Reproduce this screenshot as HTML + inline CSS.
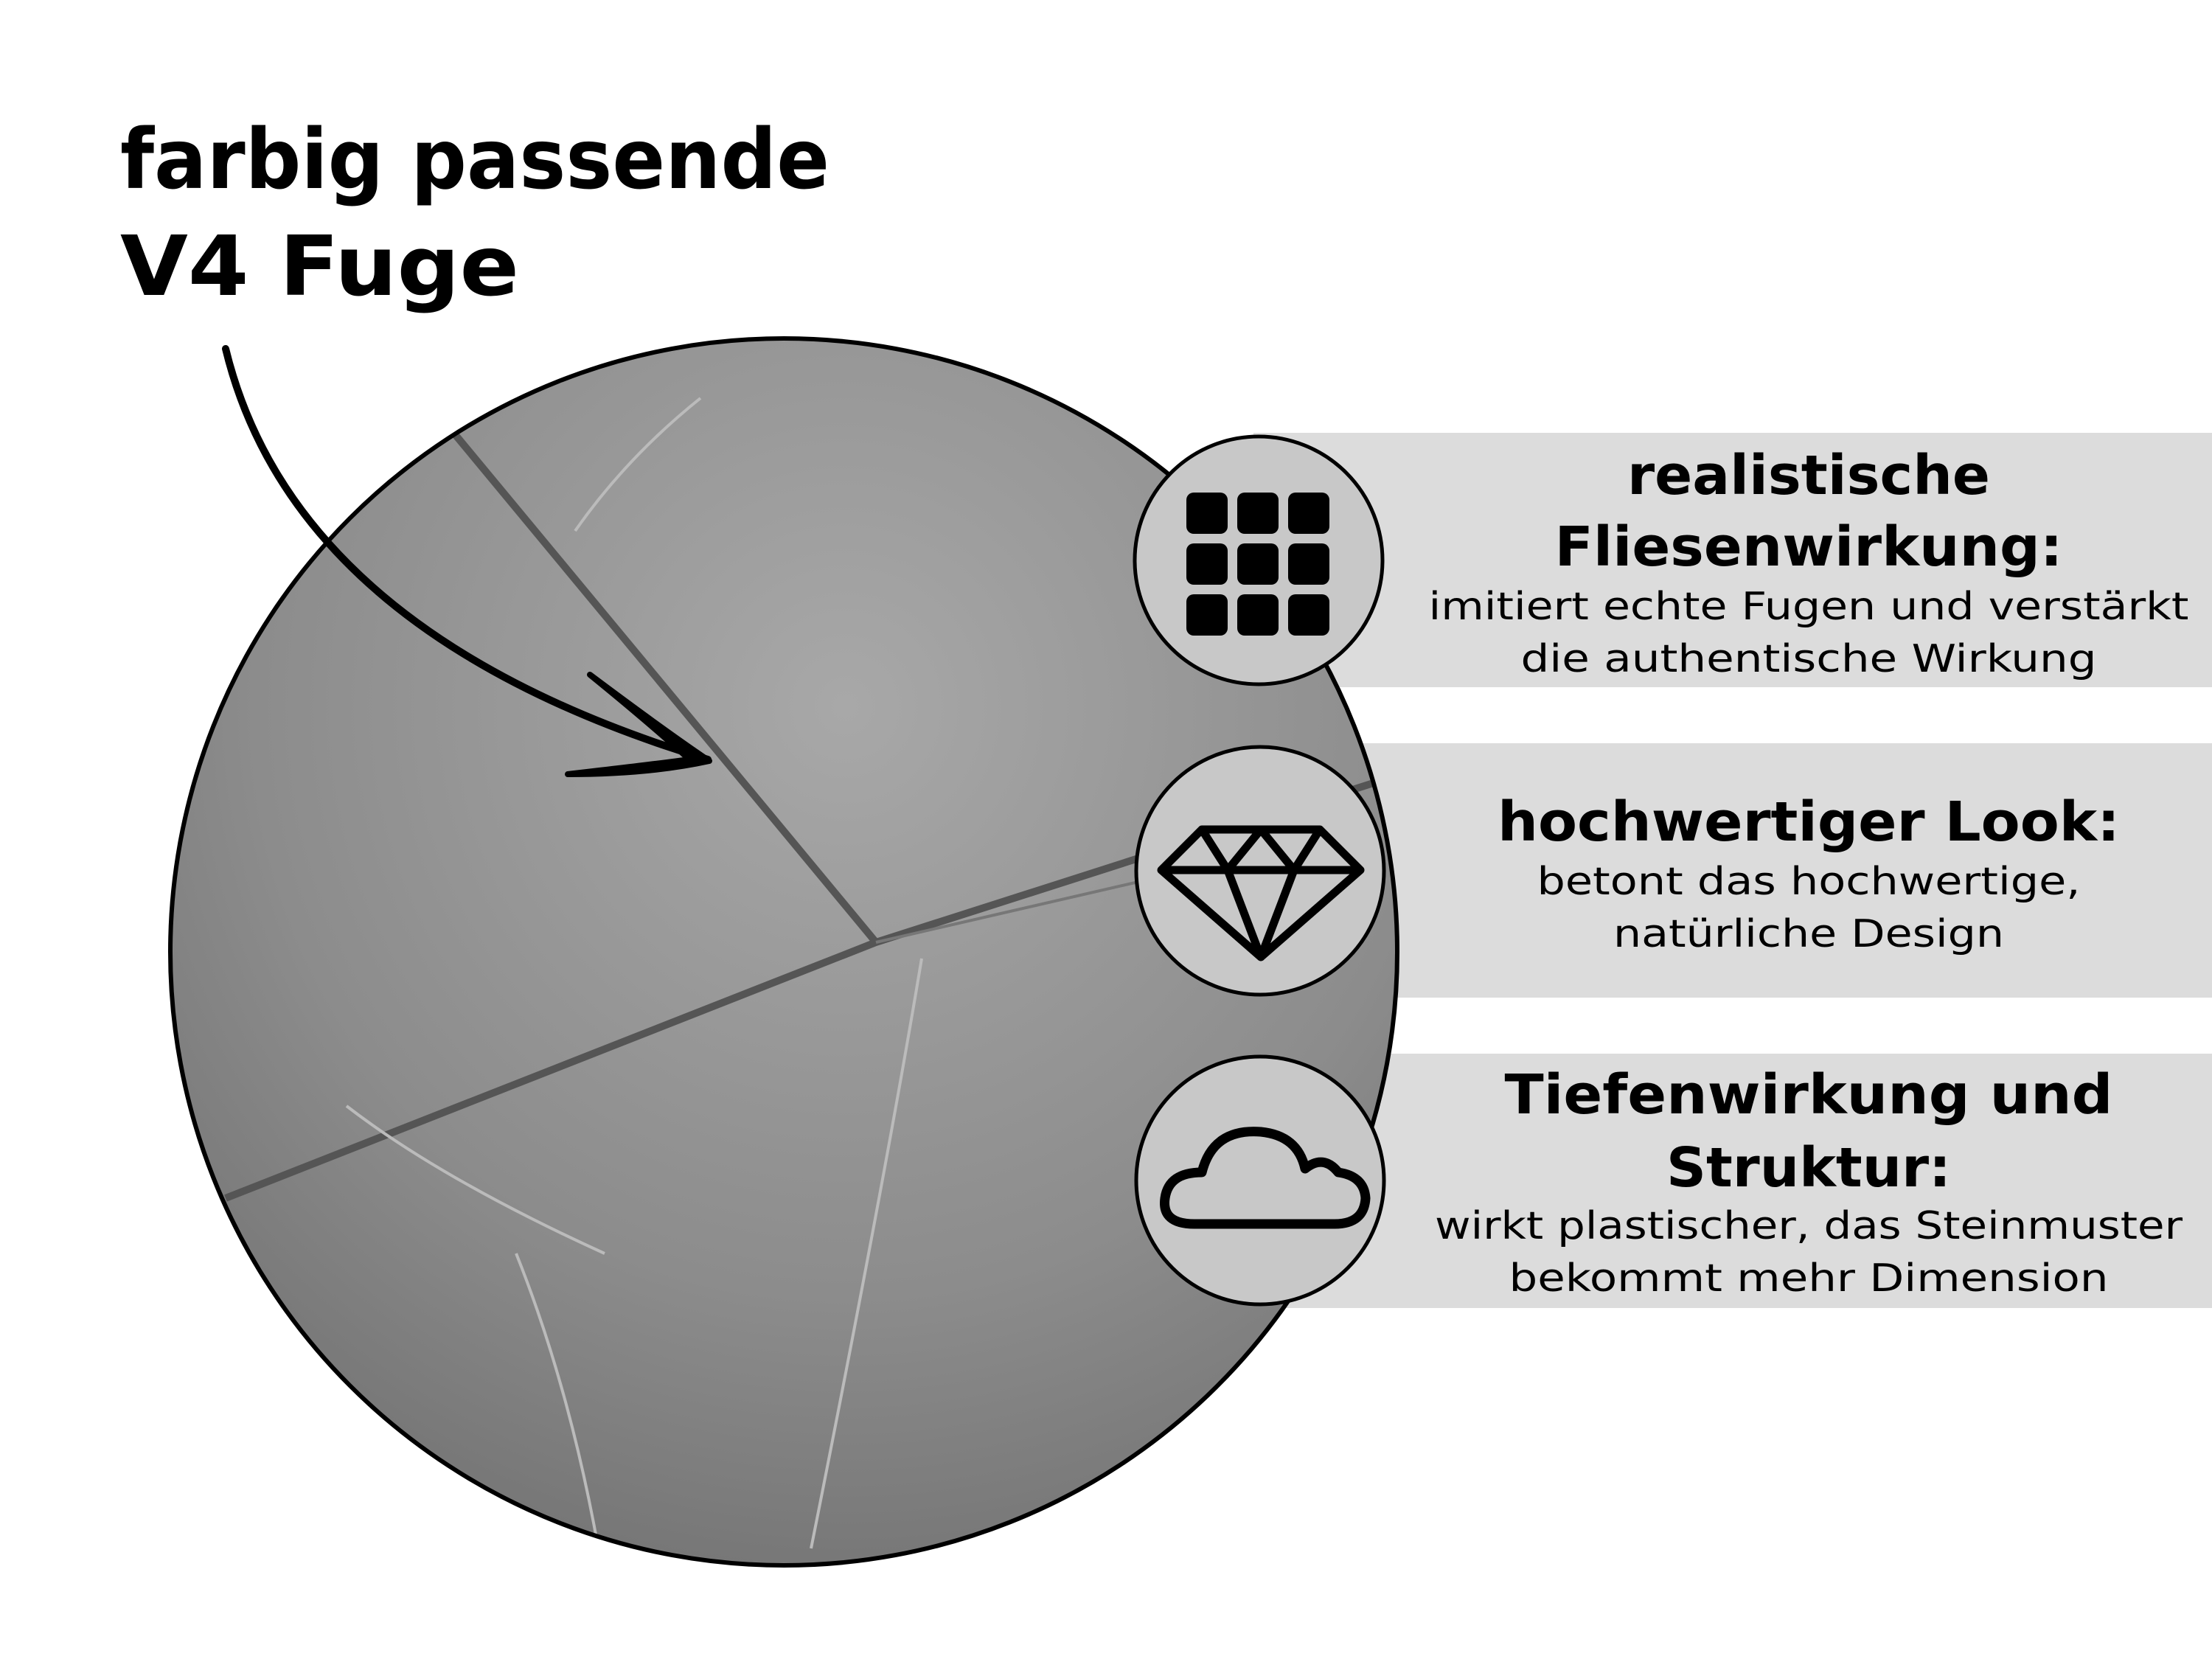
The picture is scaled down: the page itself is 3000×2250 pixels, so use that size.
<!DOCTYPE html>
<html><head><meta charset="utf-8"><style>html,body{margin:0;padding:0;background:#fff}svg{display:block}</style></head>
<body>
<svg width="3000" height="2250" viewBox="0 0 3000 2250" xmlns="http://www.w3.org/2000/svg" font-family="DejaVu Sans, Liberation Sans, sans-serif">
<defs>
<radialGradient id="g" cx="0.55" cy="0.3" r="0.8">
<stop offset="0" stop-color="#a8a8a8"/><stop offset="0.6" stop-color="#8c8c8c"/><stop offset="1" stop-color="#6e6e6e"/>
</radialGradient>
<clipPath id="c"><circle cx="1063" cy="1291" r="832"/></clipPath>
</defs>
<rect width="3000" height="2250" fill="#fff"/>
<rect x="1700" y="587" width="1300" height="345" fill="#dcdcdc"/>
<rect x="1700" y="1008" width="1300" height="345" fill="#dcdcdc"/>
<rect x="1700" y="1429" width="1300" height="345" fill="#dcdcdc"/>
<circle cx="1063" cy="1291" r="832" fill="url(#g)"/>
<g clip-path="url(#c)" fill="none">
<path d="M612 583 L1188 1278" stroke="#555" stroke-width="10"/>
<path d="M306 1625 L1188 1278 L1900 1050" stroke="#555" stroke-width="10"/>
<path d="M1188 1278 L1700 1160" stroke="#777" stroke-width="4"/>
<path d="M780 720 Q850 620 950 540 M470 1500 Q600 1600 820 1700 M1250 1300 Q1200 1600 1100 2100 M700 1700 Q780 1900 820 2150" stroke="#bbb" stroke-width="4"/>
</g>
<circle cx="1063" cy="1291" r="832" fill="none" stroke="#000" stroke-width="6"/>
<path d="M306 473 Q400 860 960 1030" fill="none" stroke="#000" stroke-width="10" stroke-linecap="round"/>
<path d="M800 915 Q900 990 962 1032 Q880 1050 770 1050 Q900 1035 935 1030 Q880 980 800 915Z" fill="#000" stroke="#000" stroke-width="8" stroke-linejoin="round"/>
<text x="163" y="255" font-size="112" font-weight="bold" fill="#000" textLength="962" lengthAdjust="spacingAndGlyphs">farbig passende</text>
<text x="163" y="400" font-size="112" font-weight="bold" fill="#000" textLength="541" lengthAdjust="spacingAndGlyphs">V4 Fuge</text>
<g fill="#c8c8c8" stroke="#000" stroke-width="5">
<circle cx="1707" cy="760" r="168"/><circle cx="1709" cy="1181" r="168"/><circle cx="1709" cy="1601" r="168"/>
</g>
<g fill="#000">
<rect x="1609" y="668" width="56" height="56" rx="10"/><rect x="1678" y="668" width="56" height="56" rx="10"/><rect x="1747" y="668" width="56" height="56" rx="10"/>
<rect x="1609" y="737" width="56" height="56" rx="10"/><rect x="1678" y="737" width="56" height="56" rx="10"/><rect x="1747" y="737" width="56" height="56" rx="10"/>
<rect x="1609" y="806" width="56" height="56" rx="10"/><rect x="1678" y="806" width="56" height="56" rx="10"/><rect x="1747" y="806" width="56" height="56" rx="10"/>
</g>
<g fill="none" stroke="#000" stroke-width="11" stroke-linejoin="round">
<path d="M1630 1125 L1790 1125 L1845 1180 L1710 1298 L1575 1180 Z M1575 1180 L1845 1180 M1630 1125 L1665 1180 L1710 1298 L1755 1180 L1790 1125 M1665 1180 L1710 1125 L1755 1180"/>
<path d="M1620 1660 Q1575 1660 1580 1625 Q1585 1590 1630 1590 Q1645 1530 1710 1535 Q1760 1540 1770 1585 Q1795 1565 1815 1590 Q1850 1595 1852 1625 Q1850 1660 1810 1660 Z" stroke-width="13"/>
</g>
<g font-weight="bold" font-size="74" text-anchor="middle" fill="#000" lengthAdjust="spacingAndGlyphs">
<text x="2453" y="670" textLength="492" lengthAdjust="spacingAndGlyphs">realistische</text>
<text x="2453" y="767" textLength="689" lengthAdjust="spacingAndGlyphs">Fliesenwirkung:</text>
<text x="2453" y="1140" textLength="844" lengthAdjust="spacingAndGlyphs">hochwertiger Look:</text>
<text x="2453" y="1510" textLength="825" lengthAdjust="spacingAndGlyphs">Tiefenwirkung und</text>
<text x="2453" y="1609" textLength="386" lengthAdjust="spacingAndGlyphs">Struktur:</text>
</g>
<g font-size="52" text-anchor="middle" fill="#000">
<text x="2453" y="840" textLength="1031" lengthAdjust="spacingAndGlyphs">imitiert echte Fugen und verstärkt</text>
<text x="2453" y="911" textLength="781" lengthAdjust="spacingAndGlyphs">die authentische Wirkung</text>
<text x="2453" y="1213" textLength="737" lengthAdjust="spacingAndGlyphs">betont das hochwertige,</text>
<text x="2453" y="1284" textLength="530" lengthAdjust="spacingAndGlyphs">natürliche Design</text>
<text x="2453" y="1680" textLength="1014" lengthAdjust="spacingAndGlyphs">wirkt plastischer, das Steinmuster</text>
<text x="2453" y="1751" textLength="813" lengthAdjust="spacingAndGlyphs">bekommt mehr Dimension</text>
</g>
</svg>
</body></html>
